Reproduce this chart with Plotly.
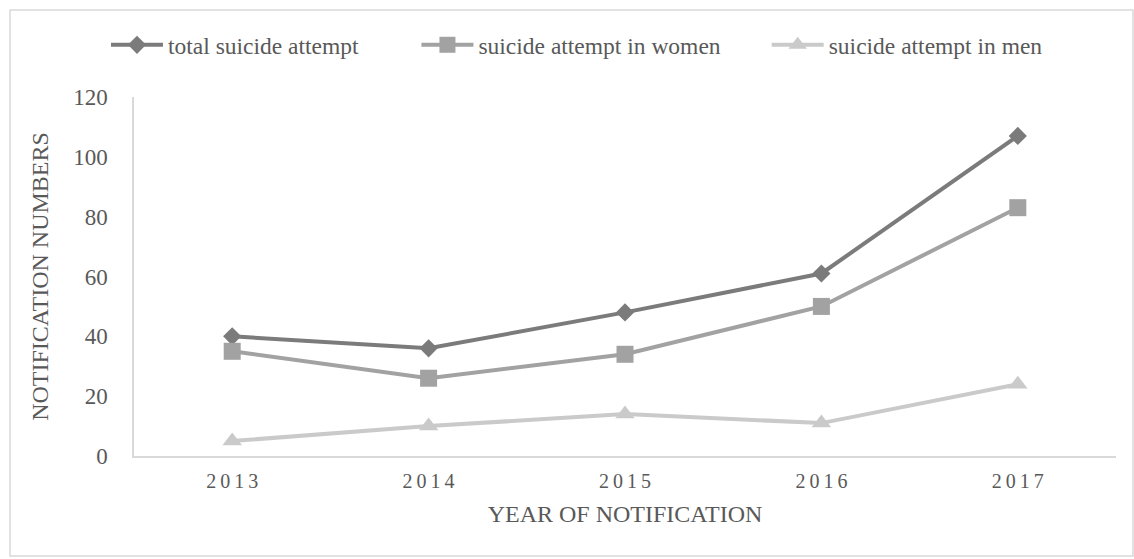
import plotly.graph_objects as go

years = ["2013", "2014", "2015", "2016", "2017"]
year_labels = ["2\u20090\u20091\u20093", "2\u20090\u20091\u20094", "2\u20090\u20091\u20095", "2\u20090\u20091\u20096", "2\u20090\u20091\u20097"]
total = [40, 36, 48, 61, 107]
women = [35, 26, 34, 50, 83]
men = [5, 10, 14, 11, 24]

names = ["total suicide attempt", "suicide attempt in women", "suicide attempt in men"]
pad = ["\u00a0" * 9, "\u00a0" * 7, ""]
colors = ["#7b7b7b", "#a2a2a2", "#cacaca"]
symbols = ["diamond", "square", "triangle-up"]
sizes = [14, 17, 17]

W, H = 1134, 559
L, R, T, B = 134, 18, 97, 103
FONT = "Liberation Serif"
TXT = "#595959"

fig = go.Figure()
for name, p, vals, c, s, sz in zip(names, pad, [total, women, men], colors, symbols, sizes):
    fig.add_trace(go.Scatter(
        x=years, y=vals, name=name + p, mode="lines+markers",
        line=dict(color=c, width=4),
        marker=dict(symbol=s, size=sz, color=c),
    ))

pw = W - L - R
ph = H - T - B
def px_x(x):
    return (x - L) / pw
def px_y(y):
    return (H - B - y) / ph

fig.add_shape(type="rect", xref="paper", yref="paper",
              x0=px_x(10), x1=px_x(1133), y0=px_y(556), y1=px_y(10),
              line=dict(color="#d9d9d9", width=1.5), fillcolor="rgba(0,0,0,0)", layer="below")

fig.update_layout(
    width=W, height=H,
    margin=dict(l=L, r=R, t=T, b=B),
    paper_bgcolor="white", plot_bgcolor="white",
    font=dict(family=FONT, size=18, color=TXT),
    showlegend=True,
    legend=dict(orientation="h", x=px_x(106), y=px_y(45), yanchor="middle", xanchor="left",
                font=dict(family=FONT, size=23.5, color=TXT),
                itemwidth=52, tracegroupgap=0),
    xaxis=dict(
        type="category", range=[-0.5, 4.5],
        tickmode="array", tickvals=years, ticktext=year_labels,
        showline=True, linecolor="#d9d9d9", linewidth=1.5,
        showgrid=False, zeroline=False, ticks="",
        tickfont=dict(family=FONT, size=20, color=TXT),
        ticklabelstandoff=6,
        title=dict(text="YEAR OF NOTIFICATION", font=dict(family=FONT, size=24, color=TXT), standoff=14),
    ),
    yaxis=dict(
        range=[0, 120], dtick=20,
        showline=True, linecolor="#d9d9d9", linewidth=1.5,
        showgrid=False, zeroline=False, ticks="",
        tickfont=dict(family=FONT, size=23, color=TXT),
        ticklabelstandoff=20,
        title=dict(text="NOTIFICATION NUMBERS", font=dict(family=FONT, size=24, color=TXT), standoff=18),
    ),
)

fig.write_html("out.html")
